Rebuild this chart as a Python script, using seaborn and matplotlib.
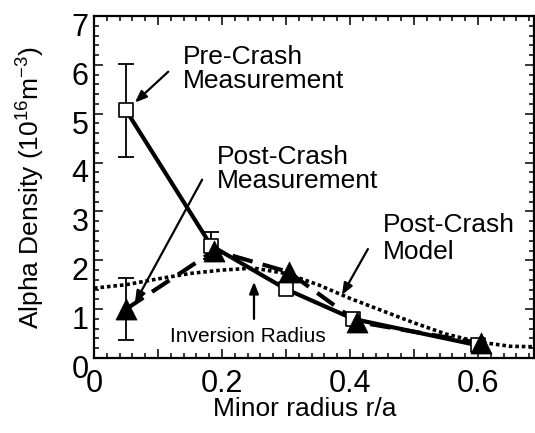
import matplotlib
matplotlib.use('Agg')
import matplotlib.pyplot as plt
import matplotlib.transforms as mtransforms
from matplotlib.ticker import MultipleLocator
import seaborn as sns

# pre-crash measurement (open squares)
pre_x = [0.05, 0.183, 0.30, 0.405, 0.60]
pre_y = [5.07, 2.30, 1.41, 0.80, 0.26]
pre_err = [0.95, 0.28, 0.0, 0.0, 0.0]

# post-crash measurement (filled triangles)
post_x = [0.05, 0.188, 0.304, 0.411, 0.605]
post_y = [1.00, 2.20, 1.76, 0.74, 0.30]
post_err = [0.64, 0.0, 0.0, 0.0, 0.0]

# post-crash model (dotted)
model_x = [0.0, 0.05, 0.1, 0.15, 0.2, 0.25, 0.3, 0.35, 0.4, 0.45, 0.5, 0.55, 0.6, 0.65, 0.69]
model_y = [1.43, 1.50, 1.62, 1.73, 1.80, 1.84, 1.73, 1.50, 1.22, 0.97, 0.72, 0.49, 0.33, 0.24, 0.23]

xtick_vals = [0, 0.2, 0.4, 0.6]
xtick_text = ['0', '0.2', '0.4', '0.6']

sns.set_style('ticks')
plt.rcParams['font.family'] = ['Liberation Sans', 'DejaVu Sans']
for key in ['text.color', 'axes.labelcolor', 'xtick.color', 'ytick.color', 'axes.edgecolor']:
    plt.rcParams[key] = 'black'

fig = plt.figure(figsize=(5.35, 4.33), dpi=100)
ax = fig.add_axes([94 / 535, 75 / 433, 440 / 535, 342 / 433])

# lines
sns.lineplot(x=pre_x, y=pre_y, ax=ax, color='k', linewidth=3, estimator=None, sort=False, zorder=3)
sns.lineplot(x=post_x, y=post_y, ax=ax, color='k', linewidth=3, estimator=None, sort=False,
             linestyle=(0, (5, 2.5)), zorder=3)
sns.lineplot(x=model_x, y=model_y, ax=ax, color='k', linewidth=2.6, estimator=None, sort=False,
             linestyle=(0, (1.0, 0.8)), zorder=2)

# error bars
ex = [x for x, e in zip(pre_x, pre_err) if e > 0] + [x for x, e in zip(post_x, post_err) if e > 0]
ey = [y for y, e in zip(pre_y, pre_err) if e > 0] + [y for y, e in zip(post_y, post_err) if e > 0]
ee = [e for e in pre_err if e > 0] + [e for e in post_err if e > 0]
ax.errorbar(ex, ey, yerr=ee, fmt='none', ecolor='k', elinewidth=1.3, capsize=5.5, capthick=1.3, zorder=2)

# markers
sns.scatterplot(x=pre_x, y=pre_y, ax=ax, marker='s', s=90, facecolor='white',
                edgecolor='k', linewidth=1.2, zorder=4)
sns.scatterplot(x=post_x, y=post_y, ax=ax, marker='^', s=230, color='k',
                edgecolor='k', linewidth=0.5, zorder=5)

# annotations
fs = 19
arrow = dict(arrowstyle='-|>,head_length=0.7,head_width=0.28', color='k', lw=1.6, shrinkA=0, shrinkB=0)
ax.text(0.139, 6.40, 'Pre-Crash\nMeasurement', fontsize=fs, ha='left', va='top', linespacing=1.0)
ax.annotate('', xy=(0.064, 5.23), xytext=(0.116, 5.86), arrowprops=arrow)
ax.text(0.192, 4.35, 'Post-Crash\nMeasurement', fontsize=fs, ha='left', va='top', linespacing=1.0)
ax.annotate('', xy=(0.064, 1.13), xytext=(0.169, 3.65), arrowprops=arrow)
ax.text(0.452, 2.97, 'Post-Crash\nModel', fontsize=fs, ha='left', va='top', linespacing=1.15)
ax.annotate('', xy=(0.3875, 1.29), xytext=(0.428, 2.23), arrowprops=arrow)
ax.text(0.119, 0.45, 'Inversion Radius', fontsize=15, ha='left', va='center')
ax.annotate('', xy=(0.25, 1.56), xytext=(0.25, 0.80), arrowprops=arrow)

# axes
ax.set_xlim(0, 0.6875)
ax.set_ylim(0, 7)
ax.xaxis.set_major_locator(MultipleLocator(0.1))
ax.xaxis.set_minor_locator(MultipleLocator(0.02))
ax.xaxis.set_major_formatter(plt.FuncFormatter(
    lambda v, p: xtick_text[xtick_vals.index(round(v, 1))] if round(v, 1) in xtick_vals else ''))
ax.yaxis.set_major_locator(MultipleLocator(1))
ax.yaxis.set_minor_locator(MultipleLocator(0.2))
ax.tick_params(which='both', direction='in', top=True, right=True, width=1.1, color='k')
ax.tick_params(which='major', length=6.5, labelsize=22)
ax.tick_params(which='minor', length=3.5)
ax.tick_params(axis='x', pad=8)
ax.tick_params(axis='y', pad=4)
for s in ax.spines.values():
    s.set_linewidth(1.6)
    s.set_color('k')

shift = mtransforms.ScaledTranslation(0, -6 / 72, fig.dpi_scale_trans)
for lab in ax.get_yticklabels():
    lab.set_transform(lab.get_transform() + shift)

ax.set_xlabel('Minor radius r/a', fontsize=fs)
ax.set_ylabel(r'Alpha Density (10$^{\mathregular{16}}$m$^{\mathregular{-3}}$)', fontsize=fs)
ax.xaxis.set_label_coords(0.48, -0.115)
ax.yaxis.set_label_coords(-0.11, 0.5)

plt.savefig('out.png', dpi=100)
